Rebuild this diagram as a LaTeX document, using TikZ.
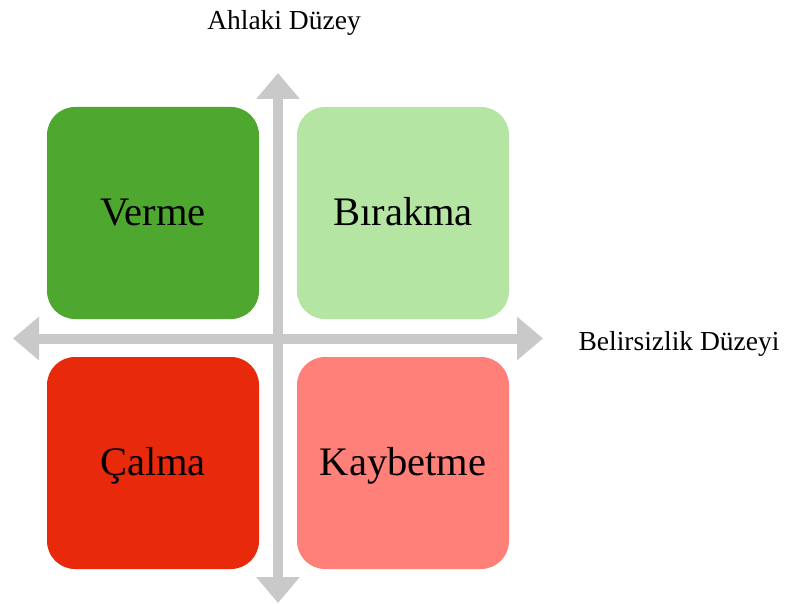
\documentclass[tikz,border=0pt]{standalone}
\usepackage{fontspec}
\setmainfont{Liberation Serif}
\usetikzlibrary{arrows.meta}
\definecolor{axisgray}{HTML}{C9C9C9}
\definecolor{darkgreen}{HTML}{4EA72E}
\definecolor{lightgreen}{HTML}{B4E5A2}
\definecolor{darkred}{HTML}{E8290B}
\definecolor{lightred}{HTML}{FF8079}
\begin{document}
\begin{tikzpicture}[x=1pt,y=-1pt,
  quad/.style={rectangle, rounded corners=28pt, minimum width=212pt, minimum height=212pt,
    inner sep=0pt, text height=25.5pt, text depth=0pt, font=\fontsize{40.5}{46}\selectfont, text=black},
  axis/.style={draw=axisgray, line width=10pt,
    {Triangle[width=42pt,length=26pt]}-{Triangle[width=42pt,length=26pt]}},
  axlabel/.style={anchor=base, font=\fontsize{27.5}{32}\selectfont, text=black, inner sep=0pt}
]
\useasboundingbox (0,0) rectangle (790,604);
\node[quad, fill=darkgreen] (verme) at (153,213) {Verme};
\node[quad, fill=lightgreen] (birakma) at (403,213) {Bırakma};
\node[quad, fill=darkred] (calma) at (153,463) {Çalma};
\node[quad, fill=lightred] (kaybetme) at (403,463) {Kaybetme};
\coordinate (vtop) at (278,73);
\coordinate (vbot) at (278,603);
\coordinate (hleft) at (13,338.5);
\coordinate (hright) at (543,338.5);
\draw[axis] (vbot) -- (vtop);
\draw[axis] (hleft) -- (hright);
\node[axlabel] (ahlaki) at (284,29.5) {Ahlaki Düzey};
\node[axlabel] (belirsiz) at (679,350) {Belirsizlik Düzeyi};
\end{tikzpicture}
\end{document}
